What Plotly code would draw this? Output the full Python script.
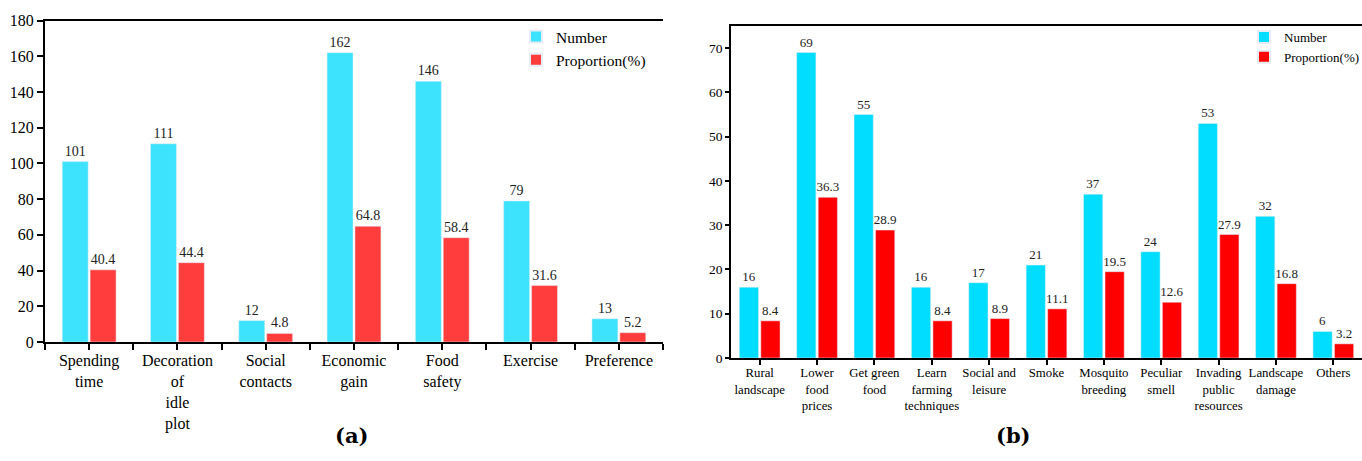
import plotly.graph_objects as go

# ---- data (a)
cats_a = ["Spending<br>time", "Decoration<br>of<br>idle<br>plot", "Social<br>contacts",
          "Economic<br>gain", "Food<br>safety", "Exercise", "Preference"]
number_a = [101, 111, 12, 162, 146, 79, 13]
prop_a = [40.4, 44.4, 4.8, 64.8, 58.4, 31.6, 5.2]

# ---- data (b)
cats_b = ["Rural<br>landscape", "Lower<br>food<br>prices", "Get green<br>food",
          "Learn<br>farming<br>techniques", "Social and<br>leisure", "Smoke",
          "Mosquito<br>breeding", "Peculiar<br>smell", "Invading<br>public<br>resources",
          "Landscape<br>damage", "Others"]
number_b = [16, 69, 55, 16, 17, 21, 37, 24, 53, 32, 6]
prop_b = [8.4, 36.3, 28.9, 8.4, 8.9, 11.1, 19.5, 12.6, 27.9, 16.8, 3.2]

W, H = 1362, 461
SERIF = "Liberation Serif, Times New Roman, serif"

CYAN_A, RED_A = "#3DE3FD", "#FF3D3D"
CYAN_B, RED_B = "#00DDFF", "#FF0000"

xa = list(range(len(cats_a)))
xb = list(range(len(cats_b)))

fig = go.Figure()

def bar(x, y, name, color, width, offset, xax, yax, leg, size):
    return go.Bar(x=x, y=y, name=name, marker_color=color,
                  width=width, offset=offset, text=[str(v) for v in y],
                  textposition="outside", cliponaxis=False, constraintext="none",
                  textfont=dict(family=SERIF, size=size, color="#222"),
                  xaxis=xax, yaxis=yax, legend=leg)

# panel (a)
fig.add_trace(bar(xa, number_a, "Number", CYAN_A, 0.294, -0.305, "x", "y", "legend", 14))
fig.add_trace(bar(xa, prop_a, "Proportion(%)", RED_A, 0.294, 0.011, "x", "y", "legend", 14))
# panel (b)
fig.add_trace(bar(xb, number_b, "Number", CYAN_B, 0.335, -0.355, "x2", "y3", "legend2", 13))
fig.add_trace(bar(xb, prop_b, "Proportion(%)", RED_B, 0.335, 0.02, "x2", "y3", "legend2", 13))

dom_xa = [45 / W, 663 / W]
dom_ya = [(H - 342) / H, (H - 20.5) / H]
dom_xb = [731 / W, 1.0]
dom_yb = [(H - 358) / H, (H - 26) / H]

fig.update_layout(
    width=W, height=H,
    margin=dict(l=0, r=0, t=0, b=0, autoexpand=False),
    paper_bgcolor="white", plot_bgcolor="white",
    barmode="overlay",
    font=dict(family=SERIF, color="black"),
    xaxis=dict(domain=dom_xa, anchor="y", range=[-0.5, 6.5], automargin=False,
               tickmode="array", tickvals=xa, ticktext=cats_a, tickangle=0,
               tickfont=dict(size=16, family=SERIF), ticklabelstandoff=-3,
               showgrid=False, zeroline=False,
               showline=True, linecolor="black", linewidth=2, mirror=True,
               ticks="outside", ticklen=6, tickwidth=1.5, tickcolor="black",
               minor=dict(tickmode="linear", tick0=0.5, dtick=1, ticks="outside",
                          ticklen=6, tickwidth=1.5, tickcolor="black", showgrid=False)),
    yaxis=dict(domain=dom_ya, anchor="x", range=[0, 180], dtick=20, automargin=False,
               tickfont=dict(size=16, family=SERIF),
               showgrid=False, zeroline=False,
               showline=True, linecolor="black", linewidth=2,
               ticks="outside", ticklen=6, tickwidth=1.5, tickcolor="black"),
    yaxis2=dict(overlaying="y", side="right", anchor="x", range=[0, 180], dtick=20,
                automargin=False,
                showticklabels=False, showgrid=False, zeroline=False,
                showline=True, linecolor="black", linewidth=2,
                ticks="inside", ticklen=6, tickwidth=1.5, tickcolor="black"),
    xaxis2=dict(domain=dom_xb, anchor="y3", range=[-0.5, 10.5], automargin=False,
                tickmode="array", tickvals=xb, ticktext=cats_b, tickangle=0,
                tickfont=dict(size=12.8, family=SERIF), ticklabelstandoff=-3,
                showgrid=False, zeroline=False,
                showline=True, linecolor="black", linewidth=1.5, mirror=True,
                ticks="outside", ticklen=5, tickwidth=1.5, tickcolor="black"),
    yaxis3=dict(domain=dom_yb, anchor="x2", range=[0, 75], automargin=False,
                tickvals=[0, 10, 20, 30, 40, 50, 60, 70],
                tickfont=dict(size=13.5, family=SERIF),
                showgrid=False, zeroline=False,
                showline=True, linecolor="black", linewidth=1.5,
                ticks="outside", ticklen=4, tickwidth=1.5, tickcolor="black"),
    legend=dict(x=516 / W, y=(H - 20) / H, xanchor="left", yanchor="top",
                bgcolor="rgba(0,0,0,0)", font=dict(family=SERIF, size=15.5),
                tracegroupgap=0, itemsizing="constant"),
    legend2=dict(x=1244 / W, y=(H - 22) / H, xanchor="left", yanchor="top",
                 bgcolor="rgba(0,0,0,0)", font=dict(family=SERIF, size=13),
                 tracegroupgap=0, itemsizing="constant"),
    showlegend=True,
)

fig.add_annotation(text="<b>(a)</b>", x=333 / W, y=(H - 450) / H, xref="paper", yref="paper",
                   showarrow=False, font=dict(family="DejaVu Serif, serif", size=21, color="black"))
fig.add_annotation(text="<b>(b)</b>", x=1033 / W, y=(H - 450) / H, xref="paper", yref="paper",
                   showarrow=False, font=dict(family="DejaVu Serif, serif", size=21, color="black"))

fig.write_html("out.html", config={"displayModeBar": False},
               post_script="document.body.style.margin='0';document.body.style.overflow='hidden';")
